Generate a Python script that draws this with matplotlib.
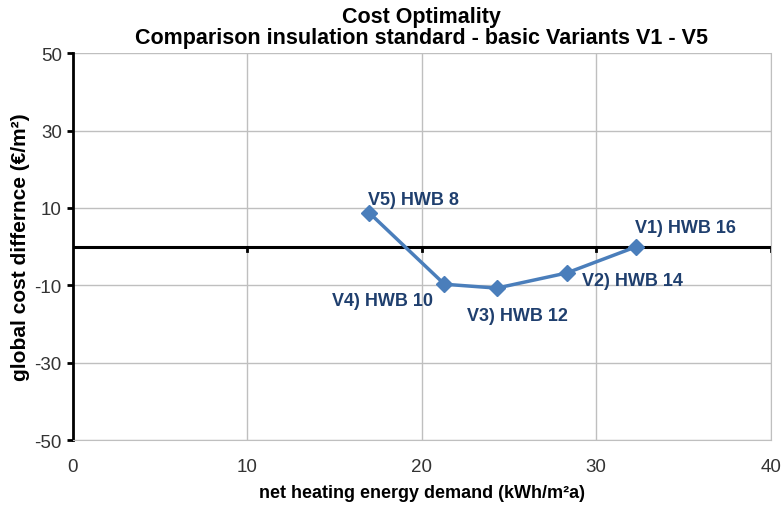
import matplotlib.pyplot as plt

plt.rcParams['font.family'] = ['Liberation Sans', 'DejaVu Sans']
plt.rcParams['axes.unicode_minus'] = False

# data
hwb = [32.3, 28.3, 24.3, 21.3, 17.0]
cost = [0.0, -6.8, -10.7, -9.7, 8.7]
labels = ['V1) HWB 16', 'V2) HWB 14', 'V3) HWB 12', 'V4) HWB 10', 'V5) HWB 8']
# label offsets in points, and alignment
offsets = [(-1, 13.5), (11, -5.5), (15, -20), (-8.5, -12), (-1, 9.5)]
aligns = ['left', 'left', 'center', 'right', 'left']

fig = plt.figure(figsize=(7.84, 5.06), dpi=100)
ax = fig.add_axes([0.093, 0.128, 0.89, 0.765])

ax.set_xlim(0, 40)
ax.set_ylim(-50, 50)
ax.set_xticks([0, 10, 20, 30, 40])
ax.set_yticks([-50, -30, -10, 10, 30, 50])
ax.grid(True, color='#bfbfbf', linewidth=1)
ax.set_axisbelow(True)

for s in ['top', 'right', 'bottom']:
    ax.spines[s].set_color('#bfbfbf')
ax.spines['top'].set_visible(False)
ax.spines['left'].set_linewidth(2)
ax.spines['left'].set_color('black')
ax.tick_params(axis='x', length=0, labelsize=13.5, pad=13, labelcolor='#333333')
ax.tick_params(axis='y', length=4, width=2, labelsize=13.5, pad=4, labelcolor='#333333')

# zero line with small ticks
ax.axhline(0, color='black', linewidth=2.2, zorder=2)
for xt in [10, 20, 30, 40]:
    ax.plot([xt, xt], [0, -1.0], color='black', linewidth=2, zorder=2)

ax.plot(hwb, cost, color='#4a7ebb', linewidth=2.5, marker='D', markersize=8,
        zorder=3)
for x, y, lab, off, ha in zip(hwb, cost, labels, offsets, aligns):
    ax.annotate(lab, (x, y), xytext=off, textcoords='offset points',
                ha=ha, va='center', fontsize=13, fontweight='bold',
                color='#1f3f6e')

ax.set_xlabel('net heating energy demand (kWh/m²a)', fontsize=13,
              fontweight='bold', labelpad=6)
ax.set_ylabel('global cost differnce (€/m²)', fontsize=15, fontweight='bold',
              labelpad=3)
ax.set_title('Cost Optimality\nComparison insulation standard - basic Variants V1 - V5',
             fontsize=15.5, fontweight='bold', pad=7, linespacing=1.05)

fig.savefig('out.png', dpi=100)
